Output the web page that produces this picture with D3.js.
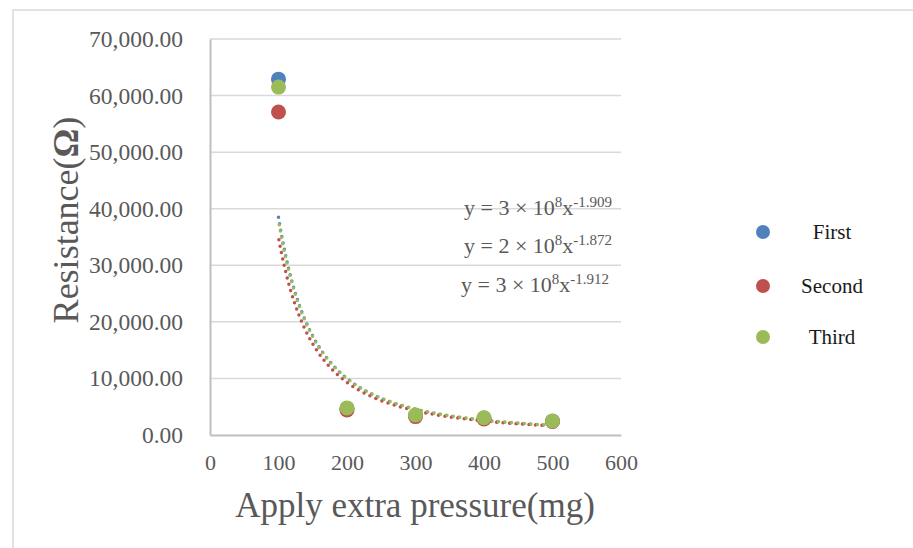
<!DOCTYPE html>
<html><head><meta charset="utf-8">
<script src="https://cdn.jsdelivr.net/npm/d3@7"></script>
<style>body{margin:0;background:#fff}svg{display:block}text{font-family:"Liberation Serif","Times New Roman",serif}</style>
</head><body>
<svg id="c" width="913" height="548"></svg>
<script>
const pressures = [100, 200, 300, 400, 500];
const seriesNames = ["First", "Second", "Third"];
const firstVals = [62900, 4700, 3500, 3000, 2450];
const secondVals = [57100, 4420, 3250, 2830, 2400];
const thirdVals = [61500, 4770, 3530, 3060, 2470];
const seriesColors = ["#4F81BD", "#C0504D", "#9BBB59"];
const equations = [["3", "8", "-1.909"], ["2", "8", "-1.872"], ["3", "8", "-1.912"]];
const xTicks = [0, 100, 200, 300, 400, 500, 600];
const yTicks = [0, 10000, 20000, 30000, 40000, 50000, 60000, 70000];

const svg = d3.select("#c");
const x = d3.scaleLinear().domain([0, 600]).range([210, 621]);
const y = d3.scaleLinear().domain([0, 70000]).range([435, 39]);

// outer frame
svg.append("rect").attr("x", 13).attr("y", 10).attr("width", 940).attr("height", 600)
  .attr("fill", "none").attr("stroke", "#d9d9d9").attr("stroke-width", 1.5);

// gridlines
svg.append("g").selectAll("line").data(yTicks.filter(d => d > 0)).join("line")
  .attr("x1", x(0)).attr("x2", x(600)).attr("y1", d => y(d)).attr("y2", d => y(d))
  .attr("stroke", "#d9d9d9").attr("stroke-width", 1.5);

// axes
const yAxis = d3.axisLeft(y).tickValues(yTicks).tickSize(0).tickPadding(27)
  .tickFormat(d => d3.format(",.2f")(d));
const gy = svg.append("g").attr("transform", `translate(${x(0)},0)`).call(yAxis);
gy.select(".domain").attr("stroke", "#bfbfbf").attr("stroke-width", 2);
gy.selectAll("text").attr("font-size", 23.5).attr("fill", "#595959")
  .attr("font-family", "Liberation Serif");

const xAxis = d3.axisBottom(x).tickValues(xTicks).tickSize(0).tickPadding(19);
const gx = svg.append("g").attr("transform", `translate(0,${y(0)})`).call(xAxis);
gx.select(".domain").attr("stroke", "#bfbfbf").attr("stroke-width", 2);
gx.selectAll("text").attr("font-size", 22).attr("fill", "#595959")
  .attr("font-family", "Liberation Serif");

// axis titles
svg.append("text").attr("x", 415).attr("y", 517).attr("text-anchor", "middle")
  .attr("font-size", 35).attr("fill", "#595959").text("Apply extra pressure(mg)");
const yt = svg.append("text").attr("transform", "translate(78,220) rotate(-90)")
  .attr("text-anchor", "middle").attr("font-size", 36).attr("fill", "#595959");
yt.append("tspan").text("Resistance(");
yt.append("tspan").attr("font-weight", "bold").text("Ω");
yt.append("tspan").text(")");

// data & power fits
const allVals = [firstVals, secondVals, thirdVals];
function powerFit(xs, ys) {
  const lx = xs.map(Math.log), ly = ys.map(Math.log);
  const mx = d3.mean(lx), my = d3.mean(ly);
  const b = d3.sum(lx.map((v, i) => (v - mx) * (ly[i] - my))) / d3.sum(lx.map(v => (v - mx) ** 2));
  const a = Math.exp(my - b * mx);
  return {a, b};
}
const line = d3.line().x(d => x(d[0])).y(d => y(d[1]));
const samples = d3.range(100, 500.01, 2);
allVals.forEach((vals, i) => {
  const f = powerFit(pressures, vals);
  const pts = samples.map(p => [p, f.a * Math.pow(p, f.b)]);
  svg.append("path").attr("d", line(pts)).attr("fill", "none")
    .attr("stroke", seriesColors[i]).attr("stroke-width", 3.5)
    .attr("stroke-linecap", "round").attr("stroke-dasharray", "0 6.5")
    .attr("stroke-dashoffset", -i * 2.2);
});
allVals.forEach((vals, i) => {
  svg.append("g").selectAll("circle").data(vals).join("circle")
    .attr("cx", (d, j) => x(pressures[j])).attr("cy", d => y(d)).attr("r", 7.5)
    .attr("fill", seriesColors[i]);
});

// equations
const eqY = [215, 253, 292];
const eqX = [464, 464, 461];
equations.forEach((e, i) => {
  const t = svg.append("text").attr("x", eqX[i]).attr("y", eqY[i]).attr("font-size", 22).attr("fill", "#595959");
  t.append("tspan").text(`y = ${e[0]} × 10`);
  t.append("tspan").attr("font-size", 15).attr("dy", -8).text(e[1]);
  t.append("tspan").attr("font-size", 22).attr("dy", 8).text("x");
  t.append("tspan").attr("font-size", 15).attr("dy", -8).text(e[2]);
});

// legend
const legY = [232, 286, 337];
seriesNames.forEach((n, i) => {
  svg.append("circle").attr("cx", 763).attr("cy", legY[i]).attr("r", 7).attr("fill", seriesColors[i]);
  svg.append("text").attr("x", 832).attr("y", legY[i]).attr("dy", "0.35em")
    .attr("text-anchor", "middle").attr("font-size", 21).attr("fill", "#1a1a1a").text(n);
});
</script>
</body></html>
